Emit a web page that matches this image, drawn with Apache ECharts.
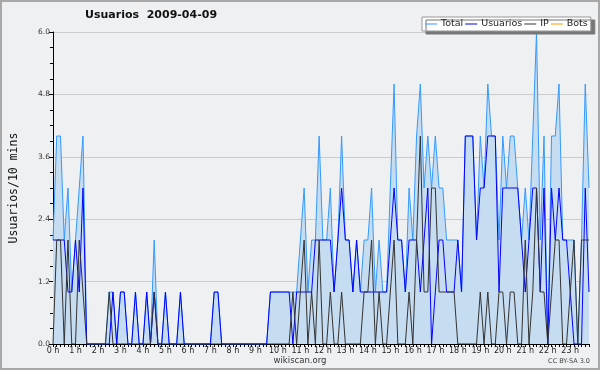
<!DOCTYPE html>
<html>
<head>
<meta charset="utf-8">
<script src="https://cdn.jsdelivr.net/npm/echarts@6/dist/echarts.min.js"></script>
<style>
html, body { margin: 0; padding: 0; background: #eff0f2; }
#main { width: 600px; height: 370px; }
</style>
</head>
<body>
<div id="main"></div>
<script>
// one point every 10 minutes, 6 per hour
var hours = ['0 h', '1 h', '2 h', '3 h', '4 h', '5 h', '6 h', '7 h', '8 h', '9 h', '10 h', '11 h',
	'12 h', '13 h', '14 h', '15 h', '16 h', '17 h', '18 h', '19 h', '20 h', '21 h', '22 h', '23 h'];

var total = [
	2, 4, 4, 2, 3, 1, 2, 3, 4, 0, 0, 0,
	0, 0, 0, 1, 1, 0, 1, 1, 0, 0, 1, 0,
	0, 1, 0, 2, 0, 0, 1, 0, 0, 0, 1, 0,
	0, 0, 0, 0, 0, 0, 0, 1, 1, 0, 0, 0,
	0, 0, 0, 0, 0, 0, 0, 0, 0, 0, 1, 1,
	1, 1, 1, 1, 1, 1, 2, 3, 1, 2, 2, 4,
	2, 2, 3, 1, 2, 4, 2, 2, 1, 2, 1, 2,
	2, 3, 1, 2, 1, 1, 3, 5, 2, 2, 1, 3,
	2, 4, 5, 3, 4, 3, 4, 3, 3, 2, 2, 2,
	2, 1, 4, 4, 4, 2, 4, 3, 5, 4, 4, 2,
	4, 3, 4, 4, 3, 2, 3, 2, 4, 6, 2, 4,
	0, 4, 4, 5, 2, 2, 2, 2, 0, 2, 5, 3
];
var usuarios = [
	2, 2, 2, 2, 1, 1, 2, 1, 3, 0, 0, 0,
	0, 0, 0, 0, 1, 0, 1, 1, 0, 0, 1, 0,
	0, 1, 0, 1, 0, 0, 1, 0, 0, 0, 1, 0,
	0, 0, 0, 0, 0, 0, 0, 1, 1, 0, 0, 0,
	0, 0, 0, 0, 0, 0, 0, 0, 0, 0, 1, 1,
	1, 1, 1, 1, 0, 1, 1, 1, 1, 1, 2, 2,
	2, 2, 2, 1, 2, 3, 2, 2, 1, 2, 1, 1,
	1, 1, 1, 1, 1, 1, 2, 3, 2, 2, 1, 2,
	2, 2, 1, 2, 3, 0, 1, 2, 2, 1, 1, 1,
	2, 1, 4, 4, 4, 2, 3, 3, 4, 4, 4, 1,
	3, 3, 3, 3, 3, 2, 1, 2, 3, 3, 1, 3,
	0, 3, 2, 3, 2, 2, 1, 0, 0, 0, 3, 1
];
var ip = [
	0, 2, 2, 0, 2, 0, 0, 2, 1, 0, 0, 0,
	0, 0, 0, 1, 0, 0, 0, 0, 0, 0, 0, 0,
	0, 0, 0, 1, 0, 0, 0, 0, 0, 0, 0, 0,
	0, 0, 0, 0, 0, 0, 0, 0, 0, 0, 0, 0,
	0, 0, 0, 0, 0, 0, 0, 0, 0, 0, 0, 0,
	0, 0, 0, 0, 1, 0, 1, 2, 0, 1, 0, 2,
	0, 0, 1, 0, 0, 1, 0, 0, 0, 0, 0, 1,
	1, 2, 0, 1, 0, 0, 1, 2, 0, 0, 0, 1,
	0, 2, 4, 1, 1, 3, 3, 1, 1, 1, 1, 1,
	0, 0, 0, 0, 0, 0, 1, 0, 1, 0, 0, 1,
	1, 0, 1, 1, 0, 0, 2, 0, 1, 3, 1, 1,
	0, 1, 2, 2, 0, 0, 1, 2, 0, 2, 2, 2
];
var bots = [];

var slots = [];
for (var h = 0; h < hours.length; h++) {
	for (var k = 0; k < 6; k++) {
		slots.push(k === 0 ? hours[h] : hours[h] + ' ' + k + '0');
	}
}

var dom = document.getElementById('main');
var myChart = echarts.init(dom, null, {renderer: 'canvas'});

var option = {
	backgroundColor: '#eff0f2',
	animation: false,
	title: {
		text: 'Usuarios  2009-04-09',
		left: 85,
		top: 10,
		padding: 0,
		textStyle: {
			fontFamily: 'DejaVu Sans',
			fontSize: 11,
			fontWeight: 'bold',
			color: '#111'
		}
	},
	legend: {
		left: 422,
		top: 17,
		width: 200,
		padding: [2, 3, 2, 3],
		itemGap: 2,
		itemWidth: 12,
		itemHeight: 1,
		icon: 'rect',
		backgroundColor: '#fff',
		borderColor: '#999',
		borderWidth: 1,
		borderRadius: 0,
		shadowColor: '#777',
		shadowBlur: 0,
		shadowOffsetX: 4,
		shadowOffsetY: 3,
		textStyle: {
			fontFamily: 'DejaVu Sans',
			fontSize: 9.5,
			color: '#222',
			padding: [0, 0, 0, -1]
		},
		data: ['Total', 'Usuarios', 'IP', 'Bots']
	},
	grid: {
		left: 46,
		right: 11,
		top: 32,
		bottom: 26
	},
	xAxis: {
		type: 'category',
		boundaryGap: false,
		data: slots,
		axisLine: {lineStyle: {color: '#000', width: 1}},
		axisTick: {
			interval: 0,
			length: 3,
			lineStyle: {color: '#000'}
		},
		axisLabel: {
			interval: 5,
			margin: 3,
			fontFamily: 'DejaVu Sans',
			fontSize: 8,
			color: '#222'
		},
		splitLine: {show: false}
	},
	yAxis: {
		type: 'value',
		min: 0,
		max: 6,
		interval: 1.2,
		name: 'Usuarios/10 mins',
		nameLocation: 'middle',
		nameGap: 33,
		nameTextStyle: {
			fontFamily: 'DejaVu Sans Mono',
			fontSize: 11.5,
			color: '#111'
		},
		axisLine: {show: true, lineStyle: {color: '#000', width: 1}},
		axisTick: {show: true, length: 4, lineStyle: {color: '#000'}},
		minorTick: {show: true, splitNumber: 4, length: 3, lineStyle: {color: '#000'}},
		axisLabel: {
			margin: 3,
			fontFamily: 'DejaVu Sans',
			fontSize: 7.5,
			color: '#333',
			formatter: function (v) { return v.toFixed(1); }
		},
		splitLine: {lineStyle: {color: '#cbcbcb', width: 1}}
	},
	graphic: [
		{
			type: 'rect',
			shape: {x: 1, y: 1, width: 598, height: 368},
			style: {fill: 'none', stroke: '#a8a8a8', lineWidth: 2},
			silent: true
		},
		{
			type: 'text',
			left: 'center',
			top: 356,
			style: {text: 'wikiscan.org', fontFamily: 'DejaVu Sans', fontSize: 8.5, fill: '#333'}
		},
		{
			type: 'text',
			right: 10,
			top: 358,
			style: {text: 'CC BY-SA 3.0', fontFamily: 'DejaVu Sans', fontSize: 6.5, fill: '#444'}
		}
	],
	series: [
		{
			name: 'Total',
			type: 'line',
			symbol: 'none',
			lineStyle: {color: '#3399ff', width: 1},
			itemStyle: {color: '#3399ff'},
			areaStyle: {color: '#c6dcf0', opacity: 1},
			data: total
		},
		{
			name: 'Usuarios',
			type: 'line',
			symbol: 'none',
			lineStyle: {color: '#0000ff', width: 1},
			itemStyle: {color: '#0000ff'},
			data: usuarios
		},
		{
			name: 'IP',
			type: 'line',
			symbol: 'none',
			lineStyle: {color: '#333333', width: 1},
			itemStyle: {color: '#333333'},
			data: ip
		},
		{
			name: 'Bots',
			type: 'line',
			symbol: 'none',
			lineStyle: {color: '#ff9900', width: 1},
			itemStyle: {color: '#ff9900'},
			data: bots
		}
	]
};

if (option && typeof option === 'object') {
	myChart.setOption(option, true);
}
</script>
</body>
</html>
